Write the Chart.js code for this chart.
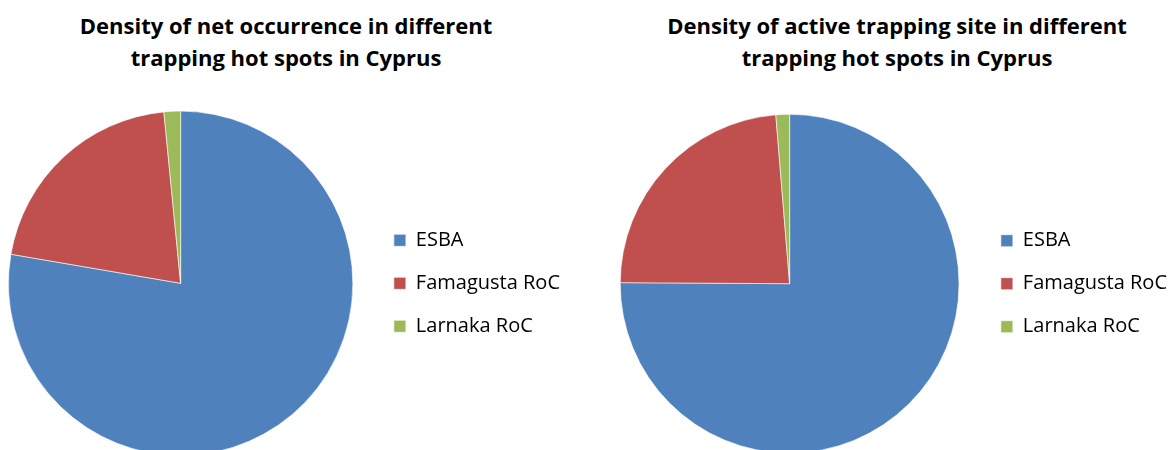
<!DOCTYPE html>
<html lang="en">
<head>
<meta charset="UTF-8">
<title>Density of trapping hot spots in Cyprus</title>
<script src="https://cdn.jsdelivr.net/npm/chart.js"></script>
<style>
    body {
        margin: 0;
        width: 1174px;
        height: 450px;
        overflow: hidden;
        position: relative;
        background: #fff;
        font-family: "Open Sans", Arial, sans-serif;
    }

    .pie-box {
        position: absolute;
        top: 0;
        height: 480px;
    }

    .pie-title {
        position: absolute;
        top: 9px;
        font-size: 22px;
        font-weight: bold;
        line-height: 32px;
        text-align: center;
        color: #000;
        white-space: nowrap;
    }
</style>
</head>
<body>
<div class="pie-title" id="title1" style="left:0;width:572px;"></div>
<div class="pie-title" id="title2" style="left:617px;width:560px;"></div>
<div class="pie-box" style="left:-20px;width:594px;"><canvas id="netChart"></canvas></div>
<div class="pie-box" style="left:590px;width:591px;"><canvas id="siteChart"></canvas></div>

<script>
    // hot spots
    const hotSpots = ['ESBA', 'Famagusta RoC', 'Larnaka RoC'];
    // share of nets (%)
    const netOccurrence = [77.7, 20.75, 1.55];
    // share of active trapping sites (%)
    const activeSites = [75.1, 23.6, 1.3];

    const titleNet = ['Density of net occurrence in different', 'trapping hot spots in Cyprus'];
    const titleSites = ['Density of active trapping site in different', 'trapping hot spots in Cyprus'];

    const sliceColors = ['#4F81BD', '#C0504D', '#9BBB59'];
    const fontFamily = '"Open Sans", Arial, sans-serif';

    // titles as plain text above each pie
    function setTitle(id, lines) {
        const el = document.getElementById(id);
        lines.forEach(function (line, i) {
            if (i > 0) el.appendChild(document.createElement('br'));
            el.appendChild(document.createTextNode(line));
        });
    }
    setTitle('title1', titleNet);
    setTitle('title2', titleSites);

    function makePie(canvasId, values, pad) {
        return new Chart(document.getElementById(canvasId), {
            type: 'pie',
            data: {
                labels: hotSpots,
                datasets: [{
                    data: values,
                    backgroundColor: sliceColors,
                    borderColor: '#ffffff',
                    borderWidth: 0.6
                }]
            },
            options: {
                responsive: true,
                maintainAspectRatio: false,
                animation: false,
                layout: { padding: pad },
                plugins: {
                    legend: {
                        position: 'right',
                        fullSize: false,
                        labels: {
                            boxWidth: 12,
                            boxHeight: 12,
                            padding: 23,
                            color: '#000',
                            font: { family: fontFamily, size: 20 }
                        }
                    },
                    tooltip: { enabled: false }
                }
            }
        });
    }

    makePie('netChart', netOccurrence, { left: 10.4, right: 4, top: 110.8, bottom: 24.2 });
    makePie('siteChart', activeSites, { left: 11.4, right: 4, top: 114, bottom: 26.6 });
</script>
</body>
</html>
